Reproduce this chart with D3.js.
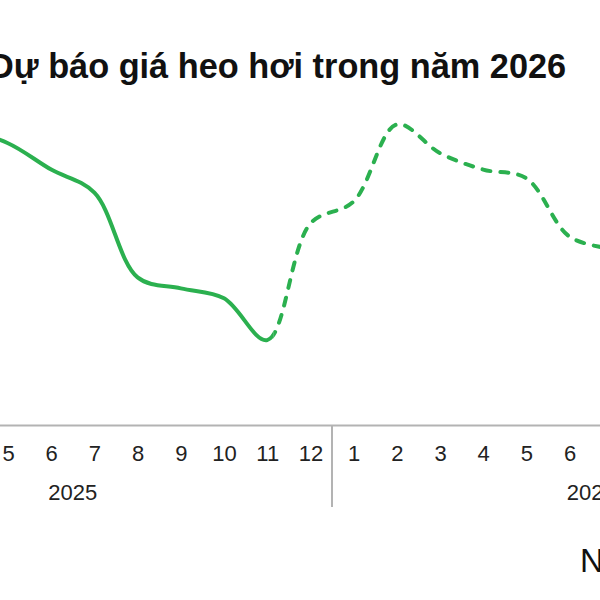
<!DOCTYPE html>
<html>
  <head>
    <meta charset="UTF-8">
    <title>Dự báo giá heo hơi</title>
    <script src="https://d3js.org/d3.v7.min.js"></script>
    <style>
      body { margin: 0; background: #fff; }
      svg { display: block; font-family: "Liberation Sans", Arial, sans-serif; }
    </style>
  </head>
  <body>
    <script>

const svgWidth = 600;
const svgHeight = 600;

// data
const years = ["2025", "2026"];
const monthLabels = ["1", "2", "3", "4", "5", "6", "7", "8", "9", "10", "11", "12"];
const priceMonths = ["2025-4", "2025-5", "2025-6", "2025-7", "2025-8", "2025-9", "2025-10", "2025-11", "2025-12",
                     "2026-1", "2026-2", "2026-3", "2026-4", "2026-5", "2026-6", "2026-7"];
const priceValues = [71.0, 69.8, 67.4, 65.3, 57.6, 56.6, 55.7, 51.9, 62.5,
                     64.5, 71.5, 68.9, 67.4, 66.6, 61.3, 60.2];
const lastActual = "2025-11";

const categories = [];
years.forEach(y => monthLabels.forEach(m => categories.push(y + "-" + m)));

const data = priceMonths.map((k, i) => ({key: k, value: priceValues[i]}));

const svg = d3.select("body")
  .append("svg")
  .attr("width", svgWidth)
  .attr("height", svgHeight);

const step = 43.2;
const x0 = 8 - 4 * step;
const xScale = d3.scalePoint()
  .domain(categories)
  .range([x0, x0 + (categories.length - 1) * step]);

const yScale = d3.scaleLinear()
  .domain([40, 80])
  .range([471, 31]);

const axisY = 425;

// title
svg.append("text")
  .attr("x", -11)
  .attr("y", 78)
  .attr("font-size", 34.3)
  .attr("font-weight", "bold")
  .attr("fill", "#111")
  .text("Dự báo giá heo hơi trong năm 2026");

// line, solid for actual, dashed for forecast
const line = d3.line()
  .x(d => xScale(d.key))
  .y(d => yScale(d.value))
  .curve(d3.curveCatmullRom.alpha(0.5));

const splitX = xScale(lastActual) + 6;

const defs = svg.append("defs");
defs.append("clipPath").attr("id", "clipActual")
  .append("rect").attr("x", -1000).attr("y", 0).attr("width", splitX + 1000).attr("height", svgHeight);
defs.append("clipPath").attr("id", "clipForecast")
  .append("rect").attr("x", splitX).attr("y", 0).attr("width", 2000).attr("height", svgHeight);

svg.append("path")
  .datum(data)
  .attr("clip-path", "url(#clipActual)")
  .attr("fill", "none")
  .attr("stroke", "#2bb04f")
  .attr("stroke-width", 4)
  .attr("stroke-linecap", "round")
  .attr("d", line);

svg.append("path")
  .datum(data)
  .attr("clip-path", "url(#clipForecast)")
  .attr("fill", "none")
  .attr("stroke", "#2bb04f")
  .attr("stroke-width", 4)
  .attr("stroke-linecap", "round")
  .attr("stroke-dasharray", "8,10")
  .attr("d", line);

// month axis
const xAxis = d3.axisBottom(xScale)
  .tickSize(0)
  .tickPadding(20)
  .tickFormat(d => d.split("-")[1]);

const axisG = svg.append("g")
  .attr("transform", "translate(0," + axisY + ")")
  .call(xAxis);

axisG.select(".domain")
  .attr("stroke", "#b3b3b3")
  .attr("stroke-width", 2);

axisG.selectAll("text")
  .attr("font-size", 22)
  .attr("font-family", "Liberation Sans, Arial, sans-serif")
  .attr("fill", "#222");

// year separators and labels
years.forEach((y, i) => {
  const first = xScale(y + "-1");
  const last = xScale(y + "-12");
  [first - step / 2, last + step / 2].forEach(sx => {
    svg.append("line")
      .attr("x1", sx).attr("x2", sx)
      .attr("y1", axisY).attr("y2", 507)
      .attr("stroke", "#b3b3b3")
      .attr("stroke-width", 2);
  });
  svg.append("text")
    .attr("x", (first + last) / 2)
    .attr("y", 500)
    .attr("text-anchor", "middle")
    .attr("font-size", 22)
    .attr("fill", "#222")
    .text(y);
});

// source note (cut by the frame)
svg.append("text")
  .attr("x", 580)
  .attr("y", 572)
  .attr("font-size", 33)
  .attr("fill", "#111")
  .text("Nguồn");

    </script>
  </body>
</html>
